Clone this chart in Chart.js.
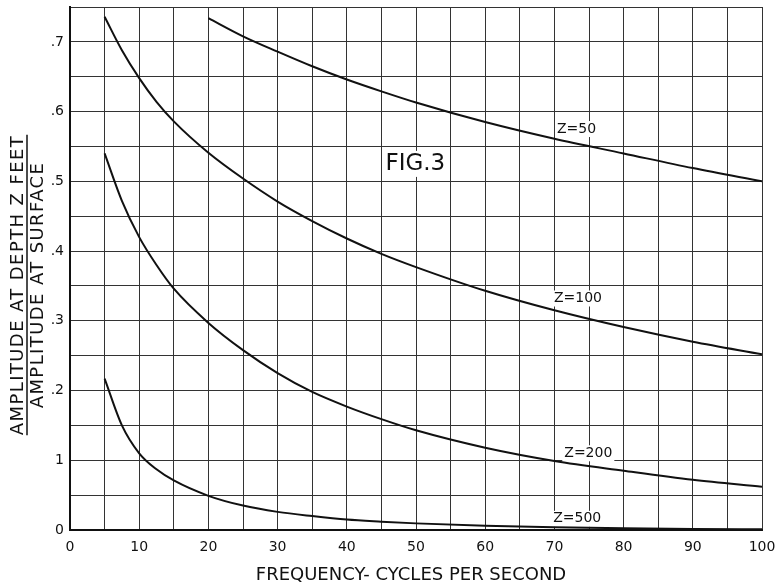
<!DOCTYPE html>
<html>
<head>
<meta charset="utf-8">
<script src="https://cdn.jsdelivr.net/npm/chart.js@4.4.1/dist/chart.umd.min.js"></script>
<style>
  html, body { margin: 0; padding: 0; background: #fff; }
  canvas { display: block; }
</style>
</head>
<body>
<canvas id="chart" width="775" height="585"></canvas>
<script>
// frequency (cycles per second)
const freq = [5, 7.5, 10, 12.5, 15, 20, 25, 30, 35, 40, 45, 50, 60, 70, 80, 90, 100];
// amplitude ratio at depth Z / at surface
const z50  = [null, null, null, null, null, 0.734, 0.708, 0.686, 0.665, 0.646, 0.629, 0.613, 0.585, 0.561, 0.540, 0.519, 0.500];
const z100 = [0.736, 0.688, 0.648, 0.614, 0.586, 0.541, 0.504, 0.471, 0.443, 0.418, 0.396, 0.377, 0.343, 0.315, 0.291, 0.270, 0.252];
const z200 = [0.540, 0.472, 0.420, 0.380, 0.346, 0.297, 0.258, 0.225, 0.198, 0.177, 0.159, 0.143, 0.118, 0.099, 0.085, 0.072, 0.062];
const z500 = [0.217, 0.150, 0.110, 0.087, 0.071, 0.049, 0.035, 0.026, 0.020, 0.015, 0.012, 0.0095, 0.006, 0.004, 0.0025, 0.0015, 0.001];
const seriesNames = ['Z=50', 'Z=100', 'Z=200', 'Z=500'];
const yTickText = {0: '0', 10: '1', 20: '.2', 30: '.3', 40: '.4', 50: '.5', 60: '.6', 70: '.7'};

const FONT = '"DejaVu Sans", sans-serif';

function pts(vals) {
  return freq.map((f, i) => ({x: f, y: vals[i]}));
}

// labels on the curves + FIG.3 (white patch behind them, like the drawing)
const decor = {
  id: 'decor',
  beforeDatasetsDraw(chart) {
    const ctx = chart.ctx, x = chart.scales.x, y = chart.scales.y;
    const spots = [[73.2, 0.575], [73.4, 0.332], [74.9, 0.110], [73.3, 0.016]];
    ctx.save();
    ctx.textAlign = 'center';
    ctx.textBaseline = 'middle';
    ctx.font = '14px ' + FONT;
    seriesNames.forEach((s, i) => {
      const px = x.getPixelForValue(spots[i][0]);
      const py = y.getPixelForValue(spots[i][1]);
      const w = ctx.measureText(s).width;
      ctx.fillStyle = '#fff';
      ctx.fillRect(px - w / 2 - 2, py - 8, w + 4, 16);
      ctx.fillStyle = '#111';
      ctx.fillText(s, px, py);
    });
    ctx.font = '23px ' + FONT;
    const fx = x.getPixelForValue(49.9), fy = y.getPixelForValue(0.525);
    const fw = ctx.measureText('FIG.3').width;
    ctx.fillStyle = '#fff';
    ctx.fillRect(fx - fw / 2 - 3, fy - 13, fw + 6, 26);
    ctx.fillStyle = '#111';
    ctx.fillText('FIG.3', fx, fy);
    ctx.restore();
  },
  afterDraw(chart) {
    const ctx = chart.ctx, a = chart.chartArea;
    ctx.save();
    ctx.fillStyle = '#111';
    ctx.strokeStyle = '#111';
    ctx.textAlign = 'center';
    ctx.textBaseline = 'middle';
    ctx.font = '18px ' + FONT;
    ctx.fillText('FREQUENCY- CYCLES PER SECOND', 411, 575);
    // y title as a fraction
    ctx.letterSpacing = '1.4px';
    ctx.translate(28, 285);
    ctx.rotate(-Math.PI / 2);
    ctx.fillText('AMPLITUDE AT DEPTH Z FEET', 0, -10);
    ctx.fillText('AMPLITUDE AT SURFACE', 0, 10.5);
    const w = ctx.measureText('AMPLITUDE AT DEPTH Z FEET').width;
    ctx.lineWidth = 1.5;
    ctx.beginPath();
    ctx.moveTo(-w / 2, -1);
    ctx.lineTo(w / 2, -1);
    ctx.stroke();
    ctx.restore();
  }
};

function ds(label, vals) {
  return {
    label: label,
    data: pts(vals),
    borderColor: '#111',
    borderWidth: 2,
    pointRadius: 0,
    fill: false,
    cubicInterpolationMode: 'monotone',
    spanGaps: false
  };
}

new Chart(document.getElementById('chart'), {
  type: 'line',
  data: {
    datasets: [ds('Z=50', z50), ds('Z=100', z100), ds('Z=200', z200), ds('Z=500', z500)]
  },
  options: {
    responsive: false,
    animation: false,
    layout: { padding: { top: 7, right: 13, bottom: 0, left: 0 } },
    plugins: { legend: { display: false }, tooltip: { enabled: false } },
    scales: {
      x: {
        type: 'linear',
        min: 0, max: 100,
        grid: { color: '#333', lineWidth: 1, drawTicks: false },
        border: { display: true, color: '#111', width: 2 },
        ticks: {
          stepSize: 5, autoSkip: false, maxRotation: 0, padding: 9,
          color: '#111', font: { family: FONT, size: 14 },
          callback: v => (v % 10 === 0 ? String(v) : '')
        },
        afterFit: s => { s.height = 55; s.paddingLeft = 0; s.paddingRight = 0; }
      },
      y: {
        min: 0, max: 0.75,
        grid: { color: '#333', lineWidth: 1, drawTicks: false },
        border: { display: true, color: '#111', width: 2 },
        ticks: {
          stepSize: 0.05, autoSkip: false, padding: 6,
          color: '#111', font: { family: FONT, size: 14 },
          callback: v => {
            const k = Math.round(v * 100);
            return k in yTickText ? yTickText[k] : '';
          }
        },
        afterFit: s => { s.width = 70; s.paddingTop = 0; s.paddingBottom = 0; }
      }
    }
  },
  plugins: [decor]
});
</script>
</body>
</html>
